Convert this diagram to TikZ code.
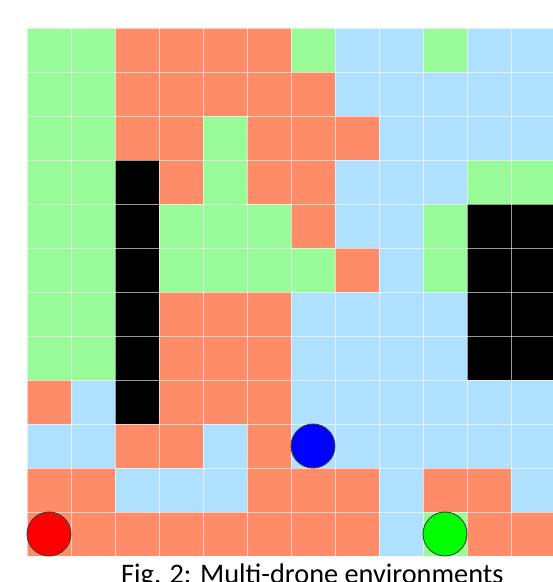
\documentclass[tikz,border=0pt]{standalone}
\usepackage{fontspec}
\setmainfont{Carlito}
\usepackage{tikz}
\usepackage{xcolor}

\definecolor{cg}{RGB}{152,251,152}
\definecolor{cs}{RGB}{255,140,105}
\definecolor{cb}{RGB}{176,224,255}
\definecolor{ck}{RGB}{0,0,0}

\begin{document}
\begin{tikzpicture}[x=1pt, y=1pt,
		gridline/.style = {white, opacity=0.6, line width=0.9pt},
		drone/.style = {circle, draw=black!75, line width=0.9pt, minimum size=44, inner sep=0pt}
		]
		\useasboundingbox (0,0) rectangle (553,582);
		
		%Cells
		\foreach \r/\cols in {
			0/{g,g,s,s,s,s,g,b,b,g,b,b},
			1/{g,g,s,s,s,s,s,b,b,b,b,b},
			2/{g,g,s,s,g,s,s,s,b,b,b,b},
			3/{g,g,k,s,g,s,s,b,b,b,g,g},
			4/{g,g,k,g,g,g,s,b,b,g,k,k},
			5/{g,g,k,g,g,g,g,s,b,g,k,k},
			6/{g,g,k,s,s,s,b,b,b,b,k,k},
			7/{g,g,k,s,s,s,b,b,b,b,k,k},
			8/{s,b,k,s,s,s,b,b,b,b,b,b},
			9/{b,b,s,s,b,s,b,b,b,b,b,b},
			10/{s,s,b,b,b,s,s,s,b,s,s,b},
			11/{s,s,s,s,s,s,s,s,b,g,s,s}}{
			\foreach \c [count=\i from 0] in \cols
				\fill[fill=c\c] ({27+44*\i},{554-44*\r}) rectangle ++(44,-44);
		}
		
		%Lines
		\foreach \i in {0,...,12}{
			\draw[gridline] ({27+44*\i},26) -- ++(0,528);
			\draw[gridline] (27,{26+44*\i}) -- ++(528,0);
		}
		
		%Drones
		\node[drone, fill=red]		(red)	at	(49, 48)	{};
		\node[drone, fill=blue]		(blue)	at	(313, 136)	{};
		\node[drone, fill=green]	(green)	at	(445, 48)	{};
		
		%Caption
		\node[anchor=base west, inner sep=0pt, font=\fontsize{28.3}{32}\selectfont]
			(caption) at (121, -1.5) {Fig. 2: Multi-drone environments};
	\end{tikzpicture}
\end{document}
